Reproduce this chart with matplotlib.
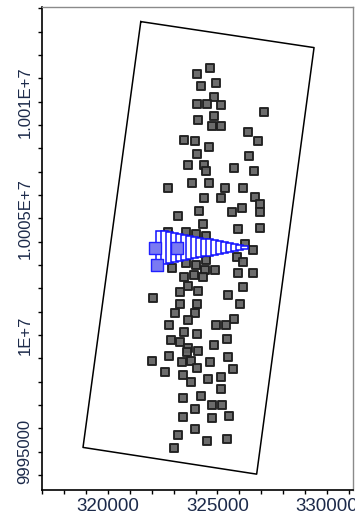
import matplotlib
matplotlib.use("Agg")
import matplotlib.pyplot as plt
from matplotlib.ticker import MultipleLocator, FixedLocator

# boundary rectangle (closed)
box_x = [321497, 329419, 326795, 318855, 321497]
box_y = [10013434, 10012320, 9994040, 9995185, 10013434]

# sample points
pts_x = [324657, 324048, 324245, 324932, 324854, 324048, 324506, 325147, 327143, 324121,
         324854, 324735, 325161, 326383, 323480, 323970, 326841, 324597, 324048, 326443,
         323636, 324382, 324460, 325756, 326658, 322720, 323833, 324597, 325344, 326154,
         324382, 325147, 326717, 326933, 326108, 323205, 324167, 325678, 326933, 324323,
         325953, 326933, 322747, 323558, 324002, 324474, 326259, 326640, 323833, 324428,
         325879, 326154, 322931, 323544, 324002, 324474, 324886, 324428, 323480, 323938,
         324350, 325953, 326640, 323663, 323283, 324094, 326154, 322061, 325495, 323283,
         324048, 326031, 323054, 323970, 323663, 325770, 322793, 324932, 325390, 323480,
         324048, 322871, 323283, 324854, 325422, 323663, 323590, 324094, 322793, 321987,
         325495, 323361, 323773, 324657, 324048, 325696, 322596, 323434, 323787, 324579,
         325147, 325147, 324245, 323434, 324735, 325193, 323970, 323407, 324735, 325541,
         323970, 323205, 324520, 325422, 323008]
pts_y = [10011462, 10011192, 10010690, 10010819, 10010193, 10009905, 10009905, 10009850, 10009575, 10009206,
         10009404, 10008949, 10008949, 10008705, 10008362, 10008306, 10008306, 10008061, 10007748, 10007676,
         10007290, 10007290, 10007019, 10007148, 10007019, 10006316, 10006518, 10006518, 10006316, 10006316,
         10005862, 10005862, 10005930, 10005596, 10005433, 10005103, 10005317, 10005287, 10005274, 10004760,
         10004532, 10004575, 10004430, 10004430, 10004318, 10004245, 10003902, 10003645, 10003645, 10003516,
         10003358, 10003117, 10002860, 10003074, 10003002, 10003216, 10002787, 10002787, 10002500, 10002573,
         10002474, 10002646, 10002646, 10002101, 10001831, 10001887, 10002045, 10001574, 10001715, 10001329,
         10001329, 10001329, 10000930, 10000930, 10000643, 10000686, 10000429, 10000429, 10000429, 10000141,
         10000043, 9999786, 9999713, 9999571, 9999828, 9999430, 9999284, 9999327, 9999100, 9998885,
         9999044, 9998855, 9998885, 9998829, 9998598, 9998529, 9998426, 9998285, 9997972, 9998100,
         9998212, 9997672, 9997384, 9997286, 9996998, 9996998, 9996827, 9996497, 9996428, 9996540,
         9995982, 9995712, 9995468, 9995528, 9995142]

# blue cone (centre x, height) around a common centre line
cone_y0 = 10003752
cone_x = [322344, 322573, 322802, 323031, 323260, 323489, 323718, 323947, 324176,
          324405, 324634, 324863, 325092, 325321, 325550, 325779, 326008, 326237]
cone_h = [1458, 1381, 1304, 1227, 1150, 1073, 996, 919, 842,
          765, 688, 611, 534, 457, 380, 303, 226, 149]

# highlighted points
hl_x = [322138, 323169, 322216]
hl_y = [10003752, 10003752, 10003002]

xticks = [320000, 325000, 330000]
yticks = [9995000, 10000000, 10005000, 10010000]
ylabels = ["9995000", "1E+7", "1.0005E+7", "1.001E+7"]

txt = "#1c2a4a"
plt.rcParams["font.family"] = ["Liberation Sans Narrow", "Liberation Sans", "DejaVu Sans"]

fig = plt.figure(figsize=(3.55, 5.12), dpi=100)
ax = fig.add_axes([42 / 355, 22 / 512, 311 / 355, 483 / 512])

ax.plot(box_x, box_y, color="black", lw=1.1, zorder=1)
ax.scatter(pts_x, pts_y, marker="s", s=40, facecolor="#646464", edgecolor="#1e1e1e",
           linewidths=1.4, alpha=0.95, zorder=2)

bottoms = [cone_y0 - h / 2 for h in cone_h]
ax.bar(cone_x, cone_h, width=320, bottom=bottoms, facecolor="white",
       edgecolor="#1010ff", linewidth=1.1, zorder=3)
ax.scatter(hl_x, hl_y, marker="s", s=72, facecolor="#7a7af2", edgecolor="#2020ff",
           linewidths=1.0, zorder=4)

ax.set_xlim(316980, 331200)
ax.set_ylim(9993360, 10014060)

ax.xaxis.set_major_locator(FixedLocator(xticks))
ax.xaxis.set_minor_locator(MultipleLocator(1000))
ax.yaxis.set_major_locator(FixedLocator(yticks))
ax.yaxis.set_minor_locator(MultipleLocator(1000))
ax.set_xticklabels([str(v) for v in xticks], fontsize=13.5)
ax.set_yticklabels(ylabels, rotation=90, va="center", fontsize=12)

ax.tick_params(which="both", direction="out", length=3, width=1, color="black",
               labelcolor=txt)
ax.tick_params(axis="x", pad=3)
ax.tick_params(axis="y", pad=4)

for s in ["left", "bottom"]:
    ax.spines[s].set_color("black")
    ax.spines[s].set_linewidth(1.2)
for s in ["top", "right"]:
    ax.spines[s].set_color("#8a8a8a")
    ax.spines[s].set_linewidth(1.0)

fig.savefig("out.png", dpi=100)
